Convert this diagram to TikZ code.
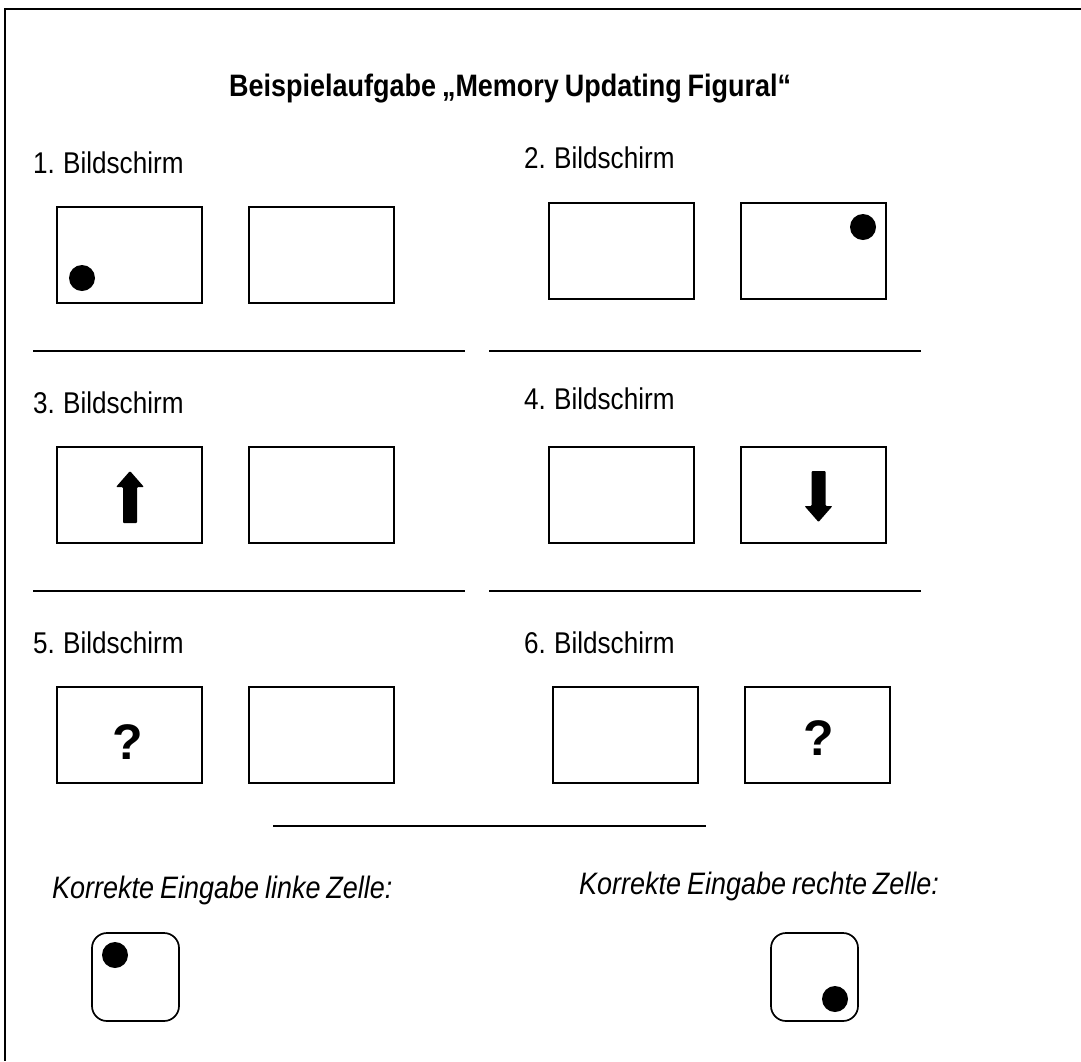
\documentclass[tikz,border=0pt]{standalone}
\usepackage{fontspec}
\setmainfont[FakeStretch=0.87,WordSpace=0.8]{Liberation Sans}
\newfontfamily\qfont{Liberation Sans}
\begin{document}
\begin{tikzpicture}[x=1pt,y=-1pt,
  scr/.style={draw, line width=2pt, minimum width=145pt, minimum height=96pt, inner sep=0pt, outer sep=0pt},
  ans/.style={draw, line width=1.7pt, rounded corners=15pt, minimum width=87pt, minimum height=88pt, inner sep=0pt},
  dot/.style={circle, fill=black, minimum size=26pt, inner sep=0pt},
  lbl/.style={anchor=base west, inner sep=0pt, font=\fontsize{30}{36}\selectfont},
  ilbl/.style={anchor=base west, inner sep=0pt, font=\fontsize{31}{36}\selectfont\itshape},
  qm/.style={inner sep=0pt, font=\qfont\fontsize{50}{58}\selectfont\bfseries},
  sep/.style={line width=1.4pt},
  frame/.style={line width=1.8pt}]
\useasboundingbox (0,0) rectangle (1081,1061);
% frame (top and left edges)
\coordinate (fTR) at (1081,9);
\coordinate (fTL) at (5,9);
\coordinate (fBL) at (5,1061);
\draw[frame] (fTR) -- (fTL) -- (fBL);
% title
\node[anchor=base west, inner sep=0pt, font=\fontsize{31}{36}\selectfont\bfseries] (title) at (229,96) {Beispielaufgabe „Memory Updating Figural“};
% screen labels
\node[lbl] (t1) at (33,173) {1. Bildschirm};
\node[lbl] (t2) at (524,168) {2. Bildschirm};
\node[lbl] (t3) at (33,413) {3. Bildschirm};
\node[lbl] (t4) at (524,409) {4. Bildschirm};
\node[lbl] (t5) at (33,653) {5. Bildschirm};
\node[lbl] (t6) at (524,653) {6. Bildschirm};
% screens
\node[scr] (A) at (129,255) {};
\node[scr] (B) at (321,255) {};
\node[scr] (C) at (621,250.5) {};
\node[scr] (D) at (813,250.5) {};
\node[scr] (E) at (129,495) {};
\node[scr] (F) at (321,495) {};
\node[scr] (G) at (621,495) {};
\node[scr] (H) at (813,495) {};
\node[scr] (I) at (129,735) {};
\node[scr] (J) at (321,735) {};
\node[scr] (K) at (625,735) {};
\node[scr] (L) at (817,735) {};
% dots
\node[dot] (dA) at (82,278) {};
\node[dot] (dD) at (863,227) {};
% arrows
\fill[rounded corners=1pt] (123,523) -- (123,487) -- (116,487) -- (130,471) -- (144,487) -- (137,487) -- (137,523) -- cycle;
\fill[rounded corners=1pt] (811.5,471) -- (825.5,471) -- (825.5,506) -- (832.5,506) -- (818.5,522) -- (804.5,506) -- (811.5,506) -- cycle;
% question marks
\node[qm] (q1) at (128,742) {?};
\node[qm] (q2) at (819,738) {?};
% separators
\coordinate (s1a) at (33,351); \coordinate (s1b) at (465,351);
\coordinate (s1c) at (489,351); \coordinate (s1d) at (921,351);
\coordinate (s2a) at (33,591); \coordinate (s2b) at (465,591);
\coordinate (s2c) at (489,591); \coordinate (s2d) at (921,591);
\coordinate (s3a) at (273,826); \coordinate (s3b) at (706,826);
\draw[sep] (s1a) -- (s1b);
\draw[sep] (s1c) -- (s1d);
\draw[sep] (s2a) -- (s2b);
\draw[sep] (s2c) -- (s2d);
\draw[sep] (s3a) -- (s3b);
% answer labels
\node[ilbl] (k1) at (52,898) {Korrekte Eingabe linke Zelle:};
\node[ilbl] (k2) at (579,894) {Korrekte Eingabe rechte Zelle:};
% answer cells
\node[ans] (R1) at (135.5,977) {};
\node[ans] (R2) at (814.5,977) {};
\node[dot] (dR1) at (115,955) {};
\node[dot] (dR2) at (835,999) {};
\end{tikzpicture}
\end{document}
